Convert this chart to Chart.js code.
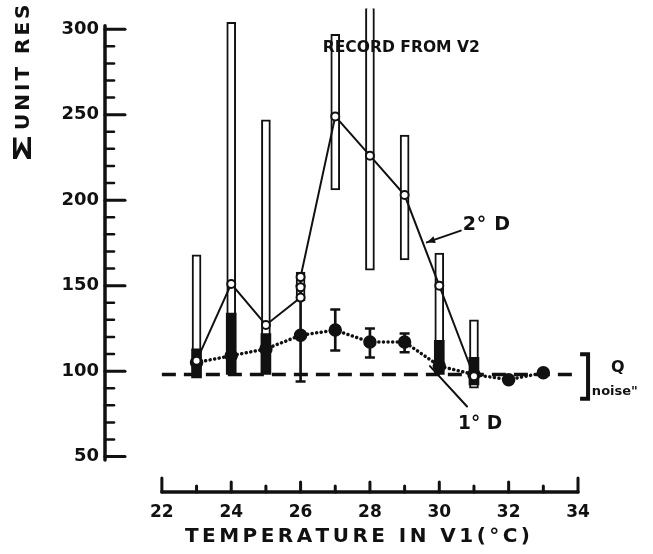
<!DOCTYPE html>
<html>
<head>
<meta charset="utf-8">
<script src="https://cdn.jsdelivr.net/npm/chart.js@4.4.1/dist/chart.umd.min.js"></script>
<style>
    html, body { margin: 0; padding: 0; background: #fff; }
    #wrap { width: 653px; height: 554px; }
</style>
</head>
<body>
<div id="wrap"><canvas id="tempChart"></canvas></div>
<script>
// values (temperature in V1, summed unit responses)
const recordTemps = [23, 24, 25, 26, 27, 28, 29, 30, 31];
const recordLow = [100, 100, 100, 141, 206, 159, 165, 100, 90];
const recordHigh = [168, 304, 247, 158, 297, 330, 238, 169, 130];

const filledTemps = [23, 24, 25, 30, 31];
const filledLow = [96, 98, 98, 98, 92];
const filledHigh = [113, 134, 122, 118, 108];

const temps2D = [23, 24, 25, 26, 26, 26, 27, 28, 29, 30, 31];
const values2D = [106, 151, 127, 143, 149, 155, 249, 226, 203, 150, 97];

const temps1D = [23, 24, 25, 26, 27, 28, 29, 30, 31, 32, 33];
const values1D = [105, 109, 113, 121, 124, 117, 117, 103, 98, 95, 99];

const errTemps = [26, 27, 28, 29];
const errLow = [94, 112, 108, 111];
const errHigh = [150, 136, 125, 122];

const noiseLevel = 98;
const xTicks = [22, 24, 26, 28, 30, 32, 34];
const yTicks = [50, 100, 150, 200, 250, 300];

const ink = "#111";
const fontFamily = "'DejaVu Sans', 'Liberation Sans', sans-serif";

function points(xs, ys) {
    return xs.map((x, i) => ({ x: x, y: ys[i] }));
}

function ranges(xs, lo, hi) {
    return xs.map((x, i) => ({ x: x, y: [lo[i], hi[i]] }));
}

// draws text char by char with a fixed gap between letters
function spacedText(ctx, text, left, y, font, gap, sx) {
    ctx.font = font;
    ctx.save();
    ctx.translate(left, y);
    ctx.scale(sx || 1, 1);
    ctx.textAlign = "left";
    ctx.textBaseline = "middle";
    let cx = 0;
    Array.from(text).forEach((c) => {
        ctx.fillText(c, cx, 0);
        cx += ctx.measureText(c).width + gap;
    });
    ctx.restore();
}

// spreads (or squeezes) text so it spans [left, right]
function fitText(ctx, text, left, right, y, font) {
    ctx.font = font;
    const chars = Array.from(text);
    const natural = chars.reduce((a, c) => a + ctx.measureText(c).width, 0);
    const target = right - left;
    const gap = (target - natural) / Math.max(chars.length - 1, 1);
    if (gap < 0) {
        spacedText(ctx, text, left, y, font, 0, target / natural);
    } else {
        spacedText(ctx, text, left, y, font, gap, 1);
    }
}

const axesAndNotes = {
    id: "axesAndNotes",
    afterDraw(chart) {
        const ctx = chart.ctx;
        const xs = chart.scales.x;
        const ys = chart.scales.y;
        const px = (v) => xs.getPixelForValue(v);
        const py = (v) => ys.getPixelForValue(v);
        const seg = (x1, y1, x2, y2) => {
            ctx.beginPath();
            ctx.moveTo(x1, y1);
            ctx.lineTo(x2, y2);
            ctx.stroke();
        };

        ctx.save();
        ctx.strokeStyle = ink;
        ctx.fillStyle = ink;
        ctx.lineCap = "round";

        // y axis with inward ticks
        const ax = xs.left;
        ctx.lineWidth = 3.5;
        seg(ax, py(302), ax, py(48));
        for (let v = 50; v <= 300; v += 10) {
            const major = v % 50 === 0;
            ctx.lineWidth = major ? 3 : 2.5;
            seg(ax, py(v), ax + (major ? 20 : 9), py(v));
        }

        // x axis, drawn below the plot with upward ticks
        const ay = ys.bottom;
        ctx.lineWidth = 3.5;
        seg(px(22), ay, px(34), ay);
        ctx.lineWidth = 3;
        for (let t = 22; t <= 34; t++) {
            let len = t % 2 === 0 ? 10 : 6;
            if (t === 22 || t === 34) len = 14;
            seg(px(t), ay, px(t), ay - len);
        }

        // axis titles
        fitText(ctx, "TEMPERATURE IN V1(°C)", 185, 530, 537, "bold 20px " + fontFamily);

        ctx.save();
        ctx.translate(24, 163);
        ctx.rotate(-Math.PI / 2);
        ctx.save();
        ctx.scale(1.7, 1);
        ctx.font = "bold 25px " + fontFamily;
        ctx.textBaseline = "middle";
        ctx.fillText("Σ", 0, 0);
        ctx.restore();
        spacedText(ctx, "UNIT RESPONSES", 33, 0, "bold 20px " + fontFamily, 3);
        ctx.restore();

        // annotations
        fitText(ctx, "RECORD FROM V2", px(26.64), px(31.17), py(289), "bold 16px " + fontFamily);
        fitText(ctx, "2° D", px(30.68), px(32.04), py(185.6), "bold 19px " + fontFamily);
        fitText(ctx, "1° D", px(30.54), px(31.81), py(69), "bold 19px " + fontFamily);

        // leader arrow for 2° D
        ctx.lineWidth = 2;
        const tipX = px(29.64), tipY = py(175.3);
        const fromX = px(30.62), fromY = py(182.2);
        seg(fromX, fromY, tipX, tipY);
        const ang = Math.atan2(tipY - fromY, tipX - fromX);
        ctx.beginPath();
        ctx.moveTo(tipX, tipY);
        ctx.lineTo(tipX - 9 * Math.cos(ang - 0.4), tipY - 9 * Math.sin(ang - 0.4));
        ctx.lineTo(tipX - 9 * Math.cos(ang + 0.4), tipY - 9 * Math.sin(ang + 0.4));
        ctx.closePath();
        ctx.fill();

        // leader for 1° D
        seg(px(29.73), py(102.9), px(30.8), py(79.3));

        // noise bracket
        ctx.lineWidth = 4;
        ctx.lineCap = "butt";
        ctx.beginPath();
        ctx.moveTo(px(34.06), py(109.8));
        ctx.lineTo(px(34.29), py(109.8));
        ctx.lineTo(px(34.29), py(83.9));
        ctx.lineTo(px(34.06), py(83.9));
        ctx.stroke();
        ctx.font = "bold 16px " + fontFamily;
        ctx.textAlign = "center";
        ctx.textBaseline = "middle";
        ctx.fillText("Q", px(35.15), py(101.7));
        ctx.font = "bold 13px " + fontFamily;
        ctx.textAlign = "left";
        ctx.fillText("noise\"", px(34.4), py(88));

        ctx.restore();
    },
};

const ctx = document.getElementById("tempChart").getContext("2d");

new Chart(ctx, {
    type: "bar",
    data: {
        datasets: [
            {
                type: "line",
                label: "2° D",
                data: points(temps2D, values2D),
                borderColor: ink,
                borderWidth: 2,
                pointRadius: 4,
                pointBackgroundColor: "#fff",
                pointBorderColor: ink,
                pointBorderWidth: 2,
                tension: 0,
                order: 1,
            },
            {
                type: "line",
                label: "1° D",
                data: points(temps1D, values1D),
                borderColor: ink,
                borderWidth: 3.5,
                borderDash: [0.1, 4.5],
                borderCapStyle: "round",
                pointRadius: 5,
                pointBackgroundColor: ink,
                pointBorderColor: ink,
                tension: 0,
                order: 2,
            },
            {
                type: "line",
                label: "error caps",
                data: points(errTemps, errLow).concat(points(errTemps, errHigh)),
                showLine: false,
                pointStyle: "line",
                pointRadius: 5,
                pointBorderWidth: 2.5,
                pointBorderColor: ink,
                order: 3,
            },
            {
                label: "error bars",
                data: ranges(errTemps, errLow, errHigh),
                backgroundColor: ink,
                barThickness: 2,
                grouped: false,
                order: 4,
            },
            {
                label: "1° D record",
                data: ranges(filledTemps, filledLow, filledHigh),
                backgroundColor: ink,
                barThickness: 10,
                grouped: false,
                order: 5,
            },
            {
                label: "Record from V2",
                data: ranges(recordTemps, recordLow, recordHigh),
                backgroundColor: "#fff",
                borderColor: ink,
                borderWidth: 2,
                borderSkipped: false,
                barThickness: 9,
                grouped: false,
                order: 6,
            },
            {
                type: "line",
                label: "Q noise",
                data: points([22, 34], [noiseLevel, noiseLevel]),
                borderColor: ink,
                borderWidth: 3.5,
                borderDash: [14, 8],
                pointRadius: 0,
                order: 7,
            },
        ],
    },
    options: {
        responsive: true,
        maintainAspectRatio: false,
        animation: false,
        layout: {
            padding: { left: 0, top: 0, right: 75, bottom: 0 },
        },
        plugins: {
            legend: { display: false },
            tooltip: { enabled: false },
        },
        scales: {
            x: {
                type: "linear",
                offset: false,
                min: 20.36,
                max: 34,
                grid: { display: false, drawTicks: false },
                border: { display: false },
                afterBuildTicks: function (scale) {
                    scale.ticks = xTicks.map((v) => ({ value: v }));
                },
                afterFit: function (scale) {
                    scale.height = 62;
                    scale.paddingLeft = 0;
                    scale.paddingRight = 0;
                },
                ticks: {
                    padding: 10,
                    color: ink,
                    font: { family: fontFamily, size: 17, weight: "bold" },
                },
            },
            y: {
                type: "linear",
                min: 29.3,
                max: 312.1,
                grid: { display: false, drawTicks: false },
                border: { display: false },
                afterBuildTicks: function (scale) {
                    scale.ticks = yTicks.map((v) => ({ value: v }));
                },
                afterFit: function (scale) {
                    scale.width = 105;
                    scale.paddingTop = 0;
                    scale.paddingBottom = 0;
                },
                ticks: {
                    padding: 6,
                    color: ink,
                    font: { family: fontFamily, size: 18, weight: "bold" },
                },
            },
        },
    },
    plugins: [axesAndNotes],
});
</script>
</body>
</html>
